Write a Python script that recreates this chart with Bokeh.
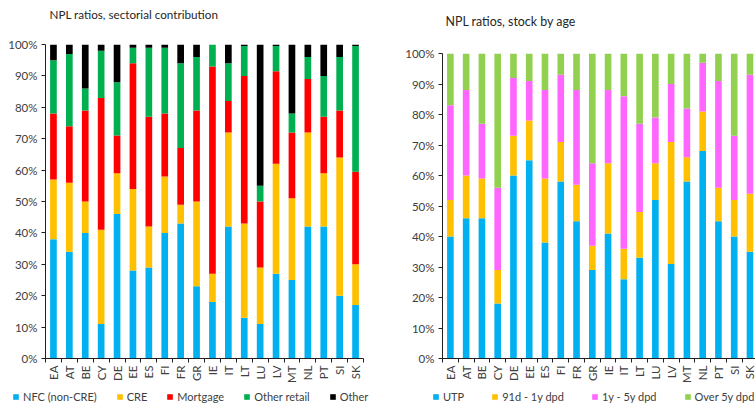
from bokeh.plotting import figure
from bokeh.layouts import row, column
from bokeh.models import Range1d, FixedTicker, PrintfTickFormatter, Legend, LegendItem, Label
from bokeh.embed import file_html
from bokeh.resources import INLINE
import math

countries = ["EA", "AT", "BE", "CY", "DE", "EE", "ES", "FI", "FR", "GR",
             "IE", "IT", "LT", "LU", "LV", "MT", "NL", "PT", "SI", "SK"]

# Left chart: sectorial contribution (% of NPLs)
nfc = [38, 34, 40, 11, 46, 28, 29, 40, 43, 23, 18, 42, 13, 11, 27, 25, 42, 42, 20, 17]
cre = [19, 22, 10, 30, 13, 26, 13, 18, 6, 27, 9, 30, 30, 18, 35, 26, 30, 17, 44, 13]
mortgage = [21, 18, 29, 42, 12, 40, 35, 20, 18, 29, 66, 10, 47, 21, 29.5, 21, 17, 18, 15, 29.5]
other_retail = [17, 23, 7, 15, 17, 5, 22, 21, 27, 17, 7, 12, 9.5, 5, 8, 6, 7, 13, 17, 40]
other = [5, 3, 14, 2, 12, 1, 1, 1, 6, 4, 0, 6, 0.5, 45, 0.5, 22, 4, 10, 4, 0.5]

# Right chart: stock by age (% of NPLs)
utp = [40, 46, 46, 18, 60, 65, 38, 58, 45, 29, 41, 26, 33, 52, 31, 58, 68, 45, 40, 35]
d91_1y = [12, 14, 13, 11, 13, 13, 21, 13, 12, 8, 23, 10, 15, 12, 40, 8, 13, 11, 12, 19]
y1_5y = [31, 28, 18, 27, 19, 13, 29, 22, 31, 27, 24, 50, 29, 15, 19, 16, 16, 35, 21, 39]
over5y = [17, 12, 23, 44, 8, 9, 12, 7, 12, 36, 12, 14, 23, 21, 10, 18, 3, 9, 27, 7]

left_title = "NPL ratios, sectorial contribution"
right_title = "NPL ratios, stock by age"
left_series = ["NFC (non-CRE)", "CRE", "Mortgage", "Other retail", "Other"]
left_colors = ["#00B0F0", "#FFC000", "#FF0000", "#00B050", "#000000"]
right_series = ["UTP", "91d - 1y dpd", "1y - 5y dpd", "Over 5y dpd"]
right_colors = ["#00B0F0", "#FFC000", "#FF66FF", "#92D050"]

FONT = "Lato"
TXT = "#404040"


def make_chart(series_values, colors, width, height, bl, br, bt, bb, xend):
    xs = list(range(len(countries)))
    p = figure(width=width, height=height, output_backend="svg", toolbar_location=None,
               title=None, x_range=Range1d(-0.5, xend), y_range=Range1d(0, 100),
               min_border_left=bl, min_border_right=br, min_border_top=bt, min_border_bottom=bb)
    p.outline_line_color = None
    p.xgrid.visible = False
    p.ygrid.visible = False

    data = {"x": xs}
    keys = []
    for i, vals in enumerate(series_values):
        k = "s%d" % i
        data[k] = vals
        keys.append(k)
    p.vbar_stack(keys, x="x", width=0.42, source=data, color=colors, line_color=None)

    p.yaxis.ticker = FixedTicker(ticks=list(range(0, 101, 10)))
    p.yaxis.formatter = PrintfTickFormatter(format="%d%%")
    p.yaxis.major_tick_out = 4
    p.yaxis.major_tick_in = 0
    p.yaxis.minor_tick_out = 0
    p.yaxis.minor_tick_in = 0
    p.yaxis.major_label_text_font = FONT
    p.yaxis.major_label_text_font_size = "11.5px"
    p.yaxis.major_label_text_color = TXT
    p.yaxis.axis_line_color = "#202020"
    p.yaxis.major_tick_line_color = "#202020"
    p.yaxis.major_label_standoff = 4

    p.xaxis.ticker = FixedTicker(ticks=xs, minor_ticks=[x + 0.5 for x in range(-1, len(countries))])
    p.xaxis.major_label_overrides = {i: c for i, c in enumerate(countries)}
    p.xaxis.major_label_orientation = math.pi / 2
    p.xaxis.major_tick_out = 0
    p.xaxis.major_tick_in = 0
    p.xaxis.minor_tick_out = 4
    p.xaxis.minor_tick_in = 0
    p.xaxis.minor_tick_line_color = "#202020"
    p.xaxis.axis_line_color = "#202020"
    p.xaxis.major_label_text_font = FONT
    p.xaxis.major_label_text_font_size = "11.5px"
    p.xaxis.major_label_text_color = TXT
    p.xaxis.major_label_standoff = 3
    return p


def add_legend(lp, series_names, series_values, colors, loc, spacing):
    xs = list(range(len(countries)))
    items = []
    for n, vals, c in zip(series_names, series_values, colors):
        r = lp.vbar(x=xs, top=vals, width=0.42, color=c, line_color=None, visible=False)
        items.append(LegendItem(label=n, renderers=[r]))
    legend = Legend(items=items, orientation="horizontal", location=loc,
                    spacing=spacing, glyph_width=7, glyph_height=7, label_standoff=4,
                    label_text_font=FONT, label_text_font_size="11px", label_text_color=TXT,
                    label_height=12, padding=0, margin=0, inactive_fill_alpha=0,
                    border_line_alpha=0, background_fill_alpha=0)
    lp.add_layout(legend, "center")


def blank(width, height):
    f = figure(width=width, height=height, output_backend="svg", toolbar_location=None,
               title=None, x_axis_type=None, y_axis_type=None, min_border=0,
               x_range=Range1d(-0.5, 19.5), y_range=Range1d(0, 100))
    f.outline_line_color = None
    f.xgrid.visible = False
    f.ygrid.visible = False
    return f


# titles strip
tfig = blank(755, 28)
tfig.add_layout(Label(x=49, y=15, x_units="screen", y_units="screen", text=left_title,
                      text_font=FONT, text_font_size="11.7px", text_color="#262626",
                      text_baseline="middle", text_align="left"))
tfig.add_layout(Label(x=445, y=7, x_units="screen", y_units="screen", text=right_title,
                      text_font=FONT, text_font_size="12.4px", text_color="#262626",
                      text_baseline="middle", text_align="left"))

left = make_chart([nfc, cre, mortgage, other_retail, other], left_colors,
                  376, 357, 45, 13, 16, 27, 19.5)
right = make_chart([utp, d91_1y, y1_5y, over5y], right_colors,
                   379, 357, 66, 0, 25, 26, 19.35)

leg = blank(755, 20)
add_legend(leg, left_series, [nfc, cre, mortgage, other_retail, other], left_colors, (12, 2), 19)
add_legend(leg, right_series, [utp, d91_1y, y1_5y, over5y], right_colors, (432, 2), 27)

layout = column(tfig, row(column(left), column(right)), leg)
open("out.html", "w").write(file_html(layout, INLINE))
